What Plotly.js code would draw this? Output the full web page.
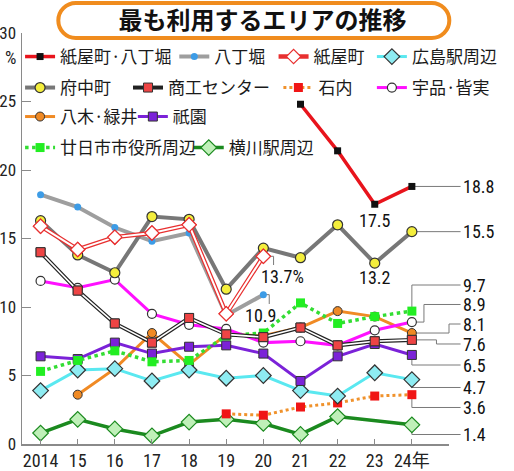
<!DOCTYPE html>
<html>
<head>
<meta charset="utf-8">
<script src="https://cdn.plot.ly/plotly-3.0.1.min.js"></script>
<style>html,body{margin:0;padding:0;background:#fff;}#chart{width:514px;height:471px;}</style>
</head>
<body>
<div id="chart"></div>
<script>
// ---- data ----
const years = [2014, 2015, 2016, 2017, 2018, 2019, 2020, 2021, 2022, 2023, 2024];
const tickVals = [2014, 2015, 2016, 2017, 2018, 2019, 2020, 2021, 2022, 2023, 2024, 2025];
const tickLabels = ['2014', '15', '16', '17', '18', '19', '20', '21', '22', '23', '24年', ''];
const yTickVals = [0, 5, 10, 15, 20, 25, 30];

const kamiyachoHatchobori = [null, null, null, null, null, null, null, 24.8, 21.4, 17.5, 18.8]; // 紙屋町・八丁堀
const hatchobori = [18.2, 17.3, 15.8, 14.8, 15.4, 9.4, 10.9, null, null, null, null];          // 八丁堀
const kamiyacho = [15.9, 14.2, 15.1, 15.4, 16.0, 9.5, 13.7, null, null, null, null];           // 紙屋町
const hiroshimaEki = [3.9, 5.4, 5.5, 4.6, 5.4, 4.8, 5.0, 3.9, 3.5, 5.2, 4.7];                  // 広島駅周辺
const fuchucho = [16.3, 13.8, 12.5, 16.6, 16.4, 11.3, 14.3, 13.6, 16.0, 13.2, 15.5];            // 府中町
const shokoCenter = [14.0, 11.2, 8.8, 7.4, 9.2, 8.0, 7.8, 8.5, 7.2, 7.5, 7.6];                 // 商工センター
const ishiuchi = [null, null, null, null, null, 2.2, 2.1, 2.7, 3.0, 3.5, 3.6];                 // 石内
const ujinaMinami = [11.9, 11.4, 12.0, 9.5, 8.7, 8.4, 7.4, 7.5, 7.2, 8.3, 8.9];                // 宇品・皆実
const yagiMidorii = [null, 3.6, 5.5, 8.1, 5.8, 8.0, 7.9, 8.5, 9.7, 9.3, 8.1];                  // 八木・緑井
const gion = [6.4, 6.2, 7.4, 6.6, 7.1, 7.2, 6.6, 4.6, 6.4, 7.3, 6.5];                          // 祇園
const hatsukaichi = [5.3, 6.1, 6.8, 6.0, 6.1, 7.9, 8.1, 10.3, 8.8, 9.3, 9.7];                  // 廿日市市役所周辺
const yokogawa = [0.8, 1.8, 1.1, 0.6, 1.6, 1.8, 1.5, 0.7, 2.0, null, 1.4];                     // 横川駅周辺

const names = {
  kh: '紙屋町·八丁堀', hb: '八丁堀', km: '紙屋町', he: '広島駅周辺',
  fc: '府中町', sc: '商工センター', is: '石内', um: '宇品·皆実',
  ym: '八木·緑井', gi: '祇園', ht: '廿日市市役所周辺', yk: '横川駅周辺'
};

// ---- layout geometry (pixels) ----
const W = 514, H = 471;
const M = {l: 22, r: 49, t: 33, b: 27};
const PW = W - M.l - M.r, PH = H - M.t - M.b;
const XR = [2013.5, 2025.0], YR = [0, 30];
const pxX = v => M.l + (v - XR[0]) / (XR[1] - XR[0]) * PW;
const pxY = v => M.t + PH - (v - YR[0]) / (YR[1] - YR[0]) * PH;
const papX = px => (px - M.l) / PW;
const papY = py => (M.t + PH - py) / PH;

const NARROW = '"Roboto Condensed", "Liberation Sans", "Noto Sans CJK JP", sans-serif';
const JP = '"Noto Sans CJK JP", "Noto Sans CJK SC", sans-serif';
const OUT = '#333';
const nf = (size, color) => ({family: NARROW, size: size, color: color || '#111'});

function tr(y, name, opt) {
  return Object.assign({
    type: 'scatter', mode: 'lines+markers', x: years, y: y, name: name,
    cliponaxis: false, hoverinfo: 'skip', connectgaps: false
  }, opt);
}

const traces = [
  tr(yokogawa, names.yk, {connectgaps: true, line: {color: '#1b8a1f', width: 3.5},
    marker: {symbol: 'diamond', size: 12, color: '#bff0b8', line: {color: '#1b8a1f', width: 1.2}}, legend: 'legend12'}),
  tr(ishiuchi, names.is, {line: {color: '#f0922c', width: 3, dash: 'dot'},
    marker: {symbol: 'square', size: 9, color: '#f01515'}, legend: 'legend7'}),
  tr(yagiMidorii, names.ym, {line: {color: '#f08a24', width: 3},
    marker: {symbol: 'circle', size: 9, color: '#f08a24', line: {color: OUT, width: 1}}, legend: 'legend9'}),
  tr(hiroshimaEki, names.he, {line: {color: '#5ae8f0', width: 3},
    marker: {symbol: 'diamond', size: 12, color: '#8eecf2', line: {color: OUT, width: 1.2}}, legend: 'legend4'}),
  tr(gion, names.gi, {line: {color: '#7b22d8', width: 3},
    marker: {symbol: 'square', size: 9, color: '#7b22d8', line: {color: OUT, width: 1}}, legend: 'legend10'}),
  tr(hatsukaichi, names.ht, {line: {color: '#33dd33', width: 3.5, dash: 'dot'},
    marker: {symbol: 'square', size: 9, color: '#22ee22'}, legend: 'legend11'}),
  tr(ujinaMinami, names.um, {line: {color: '#ff10ff', width: 3},
    marker: {symbol: 'circle', size: 9, color: '#ffffff', line: {color: OUT, width: 1.2}}, legend: 'legend8'}),
  // 商工センター: double black line
  tr(shokoCenter, names.sc, {line: {color: '#222', width: 4},
    marker: {symbol: 'square', size: 9, color: '#ee4444', line: {color: OUT, width: 1}}, legend: 'legend6'}),
  tr(shokoCenter, names.sc, {showlegend: false, line: {color: '#ffffff', width: 1.6},
    marker: {symbol: 'square', size: 9, color: '#ee4444', line: {color: OUT, width: 1}}}),
  tr(hatchobori, names.hb, {line: {color: '#9e9e9e', width: 4},
    marker: {symbol: 'circle', size: 7, color: '#3d9ce6'}, legend: 'legend2'}),
  tr(fuchucho, names.fc, {line: {color: '#777777', width: 4},
    marker: {symbol: 'circle', size: 10, color: '#f4ee3c', line: {color: OUT, width: 1.2}}, legend: 'legend5'}),
  // 紙屋町: double red line
  tr(kamiyacho, names.km, {line: {color: '#e83030', width: 4.5},
    marker: {symbol: 'diamond', size: 11, color: '#ffffff', line: {color: '#e83030', width: 1.2}}, legend: 'legend3'}),
  tr(kamiyacho, names.km, {showlegend: false, line: {color: '#ffffff', width: 2},
    marker: {symbol: 'diamond', size: 11, color: '#ffffff', line: {color: '#e83030', width: 1.2}}}),
  tr(kamiyachoHatchobori, names.kh, {line: {color: '#e8141c', width: 3.5},
    marker: {symbol: 'square', size: 7, color: '#111111'}, legend: 'legend'})
];

// ---- legends (each entry positioned like the original) ----
function leg(sampleLeftPx, rowCenterPx) {
  return {
    x: papX(sampleLeftPx - 5), y: papY(rowCenterPx), xanchor: 'left', yanchor: 'middle',
    bgcolor: 'rgba(0,0,0,0)', borderwidth: 0, itemwidth: 30, itemclick: false, itemdoubleclick: false,
    font: {family: JP, size: 17, color: '#1a1a1a'}
  };
}
const legends = {
  legend: leg(25, 57), legend2: leg(185, 57), legend3: leg(288, 57), legend4: leg(390, 57),
  legend5: leg(25, 88), legend6: leg(137, 88), legend7: leg(293, 88), legend8: leg(390, 88),
  legend9: leg(25, 117), legend10: leg(142, 117),
  legend11: leg(25, 148), legend12: leg(200, 148)
};

// ---- value labels and leader lines ----
const last = a => a[a.length - 1];
const at = (a, yr) => a[years.indexOf(yr)];
const LX = 478, LE = 477;
function lab(text, px, py, xa) {
  return {xref: 'paper', yref: 'paper', x: papX(px), y: papY(py), xanchor: xa || 'left', yanchor: 'middle',
    text: text, showarrow: false, borderpad: 0, font: nf(18, '#111')};
}
const X24 = pxX(2024), X20 = pxX(2020), X23 = pxX(2023);
const rightLabels = [
  {v: last(kamiyachoHatchobori), path: v => [[X24, pxY(v)], [LE, pxY(v)]], ly: v => pxY(v)},
  {v: last(fuchucho), path: v => [[X24, pxY(v)], [LE, pxY(v)]], ly: v => pxY(v)},
  {v: last(hatsukaichi), path: v => [[X24, pxY(v)], [X24, 285], [LE, 285]], ly: () => 285},
  {v: last(ujinaMinami), path: v => [[X24, pxY(v)], [439, pxY(v)], [439, 304.5], [LE, 304.5]], ly: () => 304.5},
  {v: last(yagiMidorii), path: v => [[X24, pxY(v)], [465, pxY(v)], [465, 324], [LE, 324]], ly: () => 324},
  {v: last(shokoCenter), path: v => [[X24, pxY(v)], [452, pxY(v)], [452, 344], [LE, 344]], ly: () => 344},
  {v: last(gion), path: v => [[X24, pxY(v)], [X24, 365], [LE, 365]], ly: () => 365},
  {v: last(hiroshimaEki), path: v => [[X24, pxY(v)], [X24, 387.5], [LE, 387.5]], ly: () => 387.5},
  {v: last(ishiuchi), path: v => [[X24, pxY(v)], [X24, 407.5], [LE, 407.5]], ly: () => 407.5},
  {v: last(yokogawa), path: v => [[X24, pxY(v)], [X24, 434.5], [LE, 434.5]], ly: () => 434.5}
];
const annotations = [];
const shapes = [];
function leader(pts) {
  const d = pts.map((p, i) => (i ? 'L' : 'M') + papX(p[0]).toFixed(5) + ',' + papY(p[1]).toFixed(5)).join(' ');
  shapes.push({type: 'path', xref: 'paper', yref: 'paper', path: d, layer: 'below',
    line: {color: '#7a7a7a', width: 1}});
}
rightLabels.forEach(r => {
  leader(r.path(r.v));
  annotations.push(lab(r.v.toFixed(1), LX, r.ly(r.v), 'left'));
});
// inline labels
const v23kh = at(kamiyachoHatchobori, 2023), v23fc = at(fuchucho, 2023);
annotations.push(lab(v23kh.toFixed(1), X23, pxY(v23kh) + 16, 'center'));
annotations.push(lab(v23fc.toFixed(1), X23, pxY(v23fc) + 14, 'center'));
const v20km = at(kamiyacho, 2020), v20hb = at(hatchobori, 2020);
leader([[X20, pxY(v20km)], [283, pxY(v20km)], [283, 265]]);
annotations.push(lab(v20km.toFixed(1) + '%', 292, 276.5, 'center'));
leader([[X20, pxY(v20hb)], [278.5, pxY(v20hb)], [278.5, 304]]);
annotations.push(lab(v20hb.toFixed(1), 269.5, 315, 'center'));
// % unit
annotations.push({xref: 'paper', yref: 'paper', x: papX(10), y: papY(57), xanchor: 'center', yanchor: 'middle',
  text: '%', showarrow: false, font: nf(18, '#222')});

// title frame (stadium shape)
(function () {
  const w = 391, h = 35, r = h / 2, hw = w / 2, k = 0.5523 * r;
  const f = n => n.toFixed(2);
  const p = 'M' + f(-hw + r) + ',' + f(-r) + ' L' + f(hw - r) + ',' + f(-r) +
    ' C' + f(hw - r + k) + ',' + f(-r) + ' ' + f(hw) + ',' + f(-k) + ' ' + f(hw) + ',0' +
    ' C' + f(hw) + ',' + f(k) + ' ' + f(hw - r + k) + ',' + f(r) + ' ' + f(hw - r) + ',' + f(r) +
    ' L' + f(-hw + r) + ',' + f(r) +
    ' C' + f(-hw + r - k) + ',' + f(r) + ' ' + f(-hw) + ',' + f(k) + ' ' + f(-hw) + ',0' +
    ' C' + f(-hw) + ',' + f(-k) + ' ' + f(-hw + r - k) + ',' + f(-r) + ' ' + f(-hw + r) + ',' + f(-r) + ' Z';
  shapes.push({type: 'path', xref: 'paper', yref: 'paper', xsizemode: 'pixel', ysizemode: 'pixel',
    xanchor: papX(262.5), yanchor: papY(20.5), path: p, line: {color: '#f08c1e', width: 4},
    fillcolor: 'rgba(0,0,0,0)', layer: 'above'});
})();

const layout = Object.assign({
  width: W, height: H,
  margin: M,
  paper_bgcolor: '#ffffff', plot_bgcolor: '#ffffff',
  showlegend: true,
  title: {text: '最も利用するエリアの推移', x: 262.5 / W, xref: 'container', xanchor: 'center',
    y: 1 - 21 / H, yref: 'container', yanchor: 'middle',
    font: {family: JP, size: 24, weight: 'bold', color: '#111'}},
  xaxis: {range: XR, tickvals: tickVals, ticktext: tickLabels, ticks: 'inside', ticklen: 5,
    tickcolor: '#8a8a8a', tickwidth: 1, showline: true, linecolor: '#8a8a8a', linewidth: 1.5,
    showgrid: false, zeroline: false, fixedrange: true, ticklabelstandoff: 0,
    tickfont: nf(18, '#222')},
  yaxis: {range: YR, tickvals: yTickVals, ticks: 'inside', ticklen: 9,
    tickcolor: '#8a8a8a', tickwidth: 1, showline: true, linecolor: '#8a8a8a', linewidth: 1.5,
    showgrid: false, zeroline: false, fixedrange: true, ticklabelstandoff: 1,
    tickfont: nf(17, '#222')},
  annotations: annotations,
  shapes: shapes
}, legends);

Plotly.newPlot('chart', traces, layout, {staticPlot: true, displayModeBar: false});
</script>
</body>
</html>
